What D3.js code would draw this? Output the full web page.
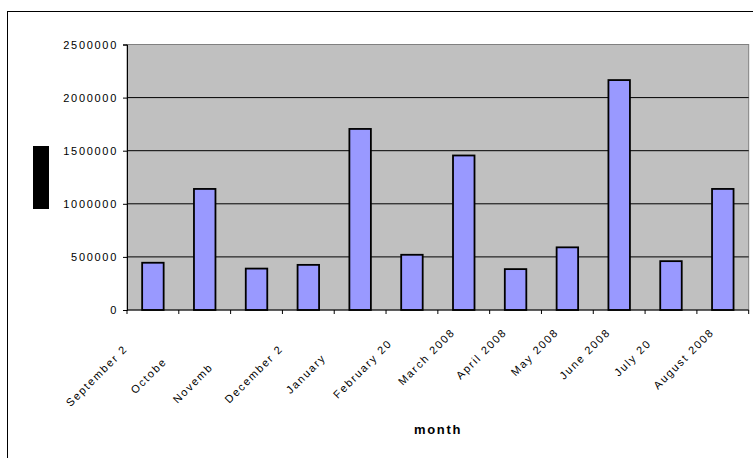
<!DOCTYPE html>
<html><head><meta charset="utf-8">
<script src="https://cdn.jsdelivr.net/npm/d3@7"></script>
<style>
html,body{margin:0;padding:0;background:#fff;}
svg{display:block;font-family:"Liberation Sans",Arial,sans-serif;}
</style></head>
<body>
<svg id="c" width="753" height="458"></svg>
<script>
const months = ["September 2007","October 2007","November 2007","December 2007","January 2008","February 2008","March 2008","April 2008","May 2008","June 2008","July 2008","August 2008"];
const shownLabels = ["September 2","Octobe","Novemb","December 2","January","February 20","March 2008","April 2008","May 2008","June 2008","July 20","August 2008"];
const values = [445000,1140000,390000,425000,1705000,520000,1455000,385000,590000,2165000,460000,1140000];
const yTicks = [0,500000,1000000,1500000,2000000,2500000];
const xTitle = "month";

const svg = d3.select("#c");
const L = 127, R = 748.7, T = 44.5, B = 310;

svg.append("rect").attr("x",7.5).attr("y",11.5).attr("width",800).attr("height",500)
  .attr("fill","#fff").attr("stroke","#000").attr("stroke-width",1);

const x = d3.scaleBand().domain(months).range([L,R]).paddingInner(0.585).paddingOuter(0.2925);
const y = d3.scaleLinear().domain([0,2500000]).range([B,T]);

svg.append("rect").attr("x",L).attr("y",T).attr("width",R-L).attr("height",B-T)
  .attr("fill","#C0C0C0").attr("stroke","#808080").attr("stroke-width",1);

svg.append("g").selectAll("line").data(yTicks.filter(d=>d>0 && d<2500000)).join("line")
  .attr("x1",L).attr("x2",R).attr("y1",d=>y(d)).attr("y2",d=>y(d))
  .attr("stroke","#000").attr("stroke-width",1);

svg.append("g").selectAll("rect").data(values).join("rect")
  .attr("x",(d,i)=>x(months[i])).attr("width",x.bandwidth())
  .attr("y",d=>y(d)).attr("height",d=>B-y(d))
  .attr("fill","#9999FF").attr("stroke","#000").attr("stroke-width",1.8);

// y axis
const yAxis = d3.axisLeft(y).tickValues(yTicks).tickSize(4).tickPadding(5).tickFormat(d3.format("d"));
const gy = svg.append("g").attr("transform",`translate(${L},0)`).call(yAxis);
gy.select(".domain").attr("stroke","#000");
gy.selectAll(".tick line").attr("stroke","#000");
gy.selectAll("text").attr("font-size",11).attr("font-family","Liberation Sans, Arial, sans-serif")
  .attr("letter-spacing",1.7).attr("fill","#000");

// x axis baseline & ticks at category boundaries
const step = x.step();
const bounds = d3.range(months.length+1).map(i=>L+i*step);
svg.append("line").attr("x1",L).attr("x2",R).attr("y1",B).attr("y2",B).attr("stroke","#000");
svg.append("g").selectAll("line").data(bounds).join("line")
  .attr("x1",d=>d).attr("x2",d=>d).attr("y1",B).attr("y2",B+4).attr("stroke","#000");

// x labels: full label positioned with end near the tick centre, only a clipped part shown
const lg = svg.append("g");
months.forEach((m,i)=>{
  const cx = x(m) + x.bandwidth()/2;
  const g = lg.append("g").attr("transform",`translate(${cx-8},${333}) rotate(-45)`);
  const t = g.append("text").attr("font-size",11).attr("letter-spacing",1.7)
    .attr("text-anchor","end").text(m);
  const len = t.node().getComputedTextLength();
  t.attr("text-anchor","start").attr("x",-len).text(shownLabels[i]);
});

svg.append("text").attr("x",438).attr("y",434).attr("text-anchor","middle")
  .attr("font-size",13).attr("font-weight","bold").attr("letter-spacing",1.7).text(xTitle);

// y-axis title block
svg.append("rect").attr("x",33).attr("y",146).attr("width",16).attr("height",63).attr("fill","#000");
</script>
</body></html>
